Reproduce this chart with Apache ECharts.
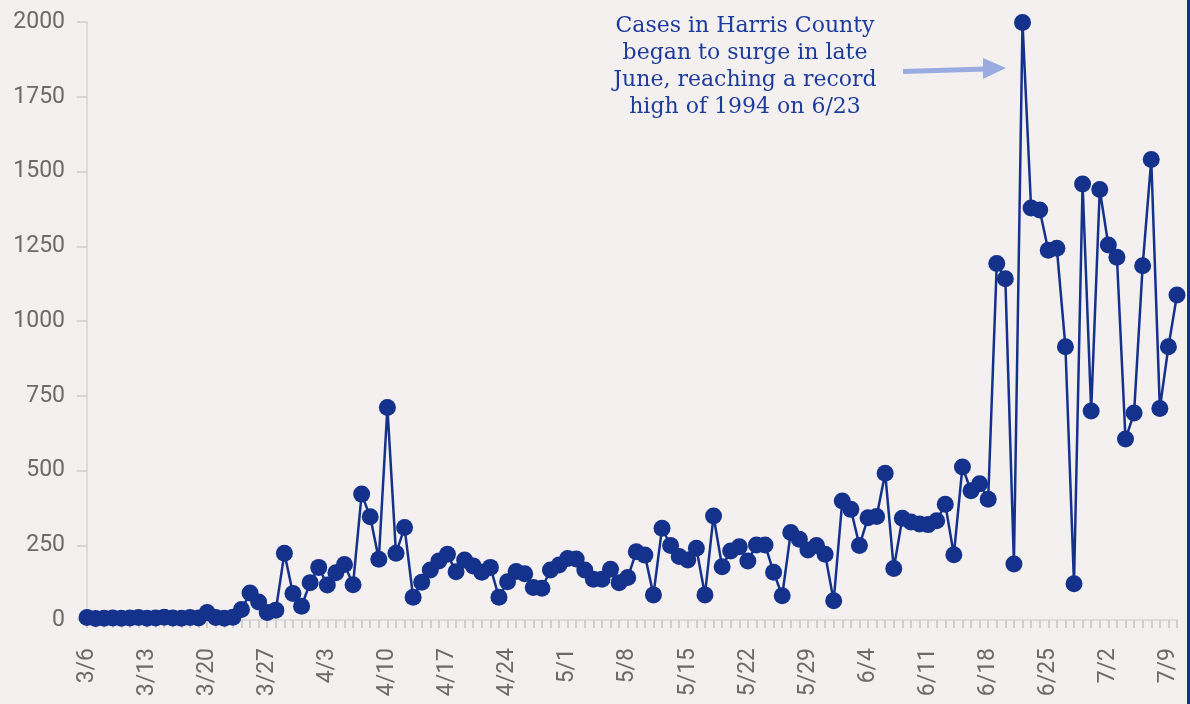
<!DOCTYPE html>
<html>
<head>
<meta charset="utf-8">
<script src="https://cdn.jsdelivr.net/npm/echarts@6/dist/echarts.min.js"></script>
<style>
html,body{margin:0;padding:0;background:#f3f0ef;}
#chart{width:1190px;height:704px;}
</style>
</head>
<body>
<div id="chart"></div>
<script>
const dates = [
 '3/6','3/7','3/8','3/9','3/10','3/11','3/12','3/13','3/14','3/15','3/16','3/17','3/18','3/19','3/20','3/21','3/22','3/23','3/24','3/25','3/26','3/27','3/28','3/29','3/30','3/31',
 '4/1','4/2','4/3','4/4','4/5','4/6','4/7','4/8','4/9','4/10','4/11','4/12','4/13','4/14','4/15','4/16','4/17','4/18','4/19','4/20','4/21','4/22','4/23','4/24','4/25','4/26','4/27','4/28','4/29','4/30',
 '5/1','5/2','5/3','5/4','5/5','5/6','5/7','5/8','5/9','5/10','5/11','5/12','5/13','5/14','5/15','5/16','5/17','5/18','5/19','5/20','5/21','5/22','5/23','5/24','5/25','5/26','5/27','5/28','5/29','5/30','5/31','5/31',
 '6/1','6/2','6/3','6/4','6/5','6/6','6/7','6/8','6/9','6/10','6/11','6/12','6/13','6/14','6/15','6/16','6/17','6/18','6/19','6/20','6/21','6/22','6/23','6/24','6/25','6/26','6/27','6/28','6/29','6/30',
 '7/1','7/2','7/3','7/4','7/5','7/6','7/7','7/8','7/9','7/10'
];
const cases = [
 8,5,6,7,6,7,8,6,7,9,7,6,8,7,25,8,6,9,35,90,60,25,33,223,89,46,
 125,176,117,158,186,118,421,345,203,711,223,309,76,126,167,197,220,161,201,181,160,176,76,128,162,155,109,106,167,184,
 206,204,167,136,136,170,125,142,228,217,84,307,249,212,201,240,84,348,178,231,245,197,251,251,160,81,293,270,234,249,220,64,
 398,370,249,342,346,491,172,340,328,321,319,332,387,218,512,432,456,404,1192,1141,187,1998,1378,1371,1237,1243,914,121,1458,
 699,1440,1254,1213,605,692,1185,1540,707,914,1087
];
const yTicks = { min: 0, max: 2000, interval: 250 };
const noteLines = ['Cases in Harris County','began to surge in late','June, reaching a record','high of 1994 on 6/23'];

const chart = echarts.init(document.getElementById('chart'));
chart.setOption({
  backgroundColor: '#f3f0ef',
  animation: false,
  grid: { left: 87, right: 13, top: 22, bottom: 84 },
  xAxis: {
    type: 'category',
    data: dates,
    boundaryGap: false,
    axisLine: { show: true, lineStyle: { color: '#dcdcdc', width: 2 } },
    axisTick: { show: true, interval: 0, length: 8, lineStyle: { color: '#cfcfcf', width: 2 } },
    axisLabel: { interval: 6, rotate: 90, margin: 28, color: '#6b6b6b', fontSize: 23, fontFamily: 'Roboto' },
    splitLine: { show: false }
  },
  yAxis: {
    type: 'value',
    min: yTicks.min, max: yTicks.max, interval: yTicks.interval,
    axisLine: { show: true, lineStyle: { color: '#dcdcdc', width: 2 } },
    axisTick: { show: true, length: 10, lineStyle: { color: '#d5d5d5', width: 2 } },
    axisLabel: { margin: 22, color: '#6b6b6b', fontSize: 23, fontFamily: 'Roboto', formatter: v => String(v) },
    splitLine: { show: false }
  },
  series: [{
    type: 'line',
    data: cases,
    symbol: 'circle',
    symbolSize: 17,
    showAllSymbol: true,
    lineStyle: { color: '#14318c', width: 2.5 },
    itemStyle: { color: '#14318c' }
  }],
  graphic: [
    {
      type: 'text', x: 745, y: 13,
      style: {
        text: noteLines.join('\n'),
        fill: '#1d3b9b',
        font: '22px "DejaVu Serif"',
        align: 'center', verticalAlign: 'top',
        lineHeight: 27
      }
    },
    { type: 'polyline', shape: { points: [[903, 71.5], [986, 69]] }, style: { stroke: '#9aabe0', lineWidth: 5 } },
    { type: 'polygon', shape: { points: [[983, 58], [1006, 68], [983, 79]] }, style: { fill: '#9aabe0' } },
    { type: 'rect', shape: { x: 1187, y: 0, width: 3, height: 704 }, style: { fill: '#14318c' } }
  ]
});
</script>
</body>
</html>
